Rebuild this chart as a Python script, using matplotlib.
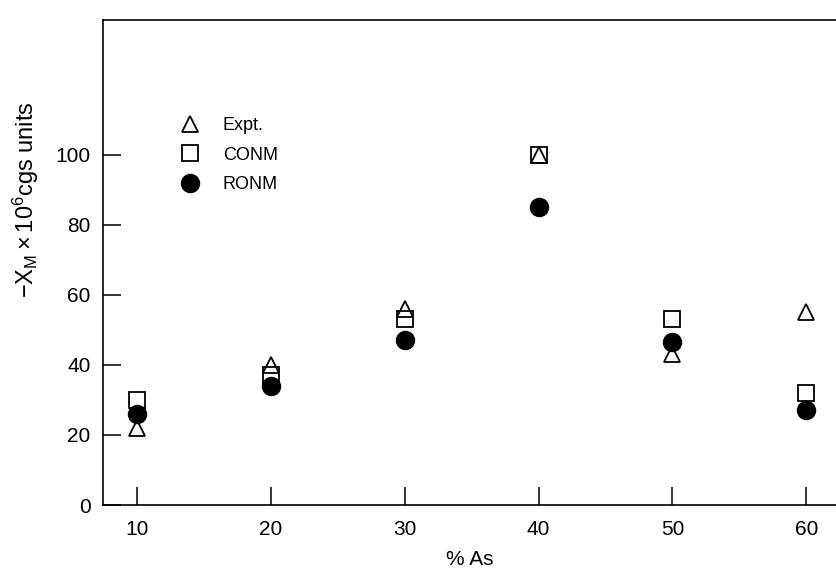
import matplotlib
matplotlib.use("Agg")
import matplotlib.pyplot as plt

# % As content
pct_as = [10, 20, 30, 40, 50, 60]
# -chi_M x 10^6 (cgs units)
expt = [22, 40, 56, 100, 43, 55]
conm = [30, 37, 53, 100, 53, 32]
ronm = [26, 34, 47, 85, 46.5, 27]

y_ticks = [0, 20, 40, 60, 80, 100]

plt.rcParams['font.family'] = ['Liberation Sans', 'DejaVu Sans']
plt.rcParams['mathtext.fontset'] = 'custom'
plt.rcParams['mathtext.rm'] = 'Liberation Sans'
plt.rcParams['mathtext.it'] = 'Liberation Sans'

fig = plt.figure(figsize=(8.37, 5.70), dpi=100)
ax = fig.add_axes([0.123, 0.114, 0.877, 0.851])

ax.plot(pct_as, conm, linestyle="none", marker="s", ms=11, mfc="white",
        mec="black", mew=1.3, label="CONM", zorder=3)
ax.plot(pct_as, expt, linestyle="none", marker="^", ms=11, mfc="none",
        mec="black", mew=1.3, label="Expt.", zorder=4)
ax.plot(pct_as, ronm, linestyle="none", marker="o", ms=13, mfc="black",
        mec="black", mew=1.0, label="RONM", zorder=5)

ax.set_xlim(7.45, 62.3)
ax.set_ylim(0, 138.5)
ax.set_xticks(pct_as)
ax.set_yticks(y_ticks)

ax.spines['right'].set_visible(False)
for s in ('left', 'top', 'bottom'):
    ax.spines[s].set_linewidth(1.2)

ax.tick_params(axis='both', direction='in', length=13, width=1.1,
               labelsize=15, top=False, right=False)
ax.tick_params(axis='y', pad=9)
ax.tick_params(axis='x', pad=11)

ax.set_xlabel("% As", fontsize=15, labelpad=8)
ax.set_ylabel(r"$-\mathrm{X}_\mathrm{M}\times10^{6}$cgs units", fontsize=17)
ax.yaxis.set_label_coords(-0.085, 0.63)

handles, labels = ax.get_legend_handles_labels()
order = [1, 0, 2]
ax.legend([handles[i] for i in order], [labels[i] for i in order],
          loc='upper left', bbox_to_anchor=(0.097, 0.815), frameon=False,
          fontsize=13, labelspacing=0.7, handlelength=1.0,
          handletextpad=1.3, borderaxespad=0)

fig.savefig("out.png", dpi=100)
